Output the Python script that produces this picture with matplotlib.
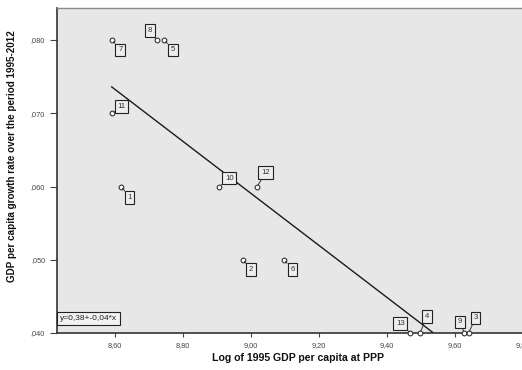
import numpy as np
import matplotlib
matplotlib.use("Agg")
import matplotlib.pyplot as plt
from matplotlib.ticker import FuncFormatter

# Country ids, log GDP per capita (1995, PPP) and growth rate 1995-2012
case_ids = ["7", "8", "5", "11", "1", "10", "12", "2", "6", "13", "4", "9", "3"]
log_gdp_1995 = [8.591, 8.722, 8.745, 8.590, 8.618, 8.907, 9.018, 8.976, 9.097,
                9.468, 9.497, 9.627, 9.640]
growth_rate = [0.080, 0.080, 0.080, 0.070, 0.060, 0.060, 0.060, 0.050, 0.050,
               0.040, 0.040, 0.040, 0.040]
# label box offsets (points) for each case id
label_dx = [6, -5, 6, 7, 6, 7, 6, 6, 6, -7, 5, -3, 5]
label_dy = [-7, 7, -7, 5, -8, 6, 10, -7, -7, 7, 12, 8, 11]

x_ticks = [8.60, 8.80, 9.00, 9.20, 9.40, 9.60, 9.80]
y_ticks = [0.040, 0.050, 0.060, 0.070, 0.080]

plt.rcParams["font.family"] = ["Liberation Sans", "DejaVu Sans"]

fig = plt.figure(figsize=(5.22, 3.70), dpi=100)
ax = fig.add_axes([57 / 522, 37 / 370, 483 / 522, 325 / 370])
ax.set_facecolor("#e7e7e7")

x = np.array(log_gdp_1995)
y = np.array(growth_rate)

# least-squares fit line over the data range
slope, intercept = np.polyfit(x, y, 1)
xs = np.array([x.min(), x.max()])
ax.plot(xs, intercept + slope * xs, color="#1a1a1a", lw=1.0, zorder=2)

ax.plot(x, y, linestyle="none", marker="o", ms=3.4, mfc="white",
        mec="#333333", mew=0.8, zorder=4, clip_on=False)

for cid, xi, yi, dx, dy in zip(case_ids, x, y, label_dx, label_dy):
    ax.annotate(cid, xy=(xi, yi), xytext=(dx, dy), textcoords="offset points",
                ha="center", va="center", fontsize=5.6, color="#333333",
                bbox=dict(boxstyle="square,pad=0.35", fc="#eeeeee",
                          ec="#222222", lw=0.8),
                arrowprops=dict(arrowstyle="-", color="#333333", lw=0.7,
                                shrinkA=0, shrinkB=1.5),
                zorder=5, annotation_clip=False)

ax.text(0.006, 0.035, "y=0,38+-0,04*x", transform=ax.transAxes, fontsize=6,
        color="#222222", ha="left", va="bottom",
        bbox=dict(boxstyle="square,pad=0.35", fc="#f2f2f2", ec="#222222", lw=0.8))

ax.set_xlim(8.429, 9.85)
ax.set_ylim(0.040, 0.08437)
ax.set_xticks(x_ticks)
ax.set_yticks(y_ticks)
ax.xaxis.set_major_formatter(FuncFormatter(lambda v, p: f"{v:.2f}".replace(".", ",")))
ax.yaxis.set_major_formatter(
    FuncFormatter(lambda v, p: f"{v:.3f}".replace("0.", ",", 1)))
ax.tick_params(axis="both", labelsize=5.3, colors="#444444", length=3, width=0.8)
ax.tick_params(axis="y", length=5)

for side in ("left", "bottom"):
    ax.spines[side].set_color("#333333")
    ax.spines[side].set_linewidth(1.2)
ax.spines["top"].set_color("#888888")
ax.spines["top"].set_linewidth(1.0)
ax.spines["right"].set_visible(False)

ax.set_xlabel("Log of 1995 GDP per capita at PPP", fontsize=7.6,
              fontweight="bold", color="#111111", labelpad=3)
ax.set_ylabel("GDP per capita growth rate over the period 1995-2012",
              fontsize=7.1, fontweight="bold", color="#111111")
ax.yaxis.set_label_coords(-0.083, 0.545)

fig.savefig("out.png", dpi=100)
